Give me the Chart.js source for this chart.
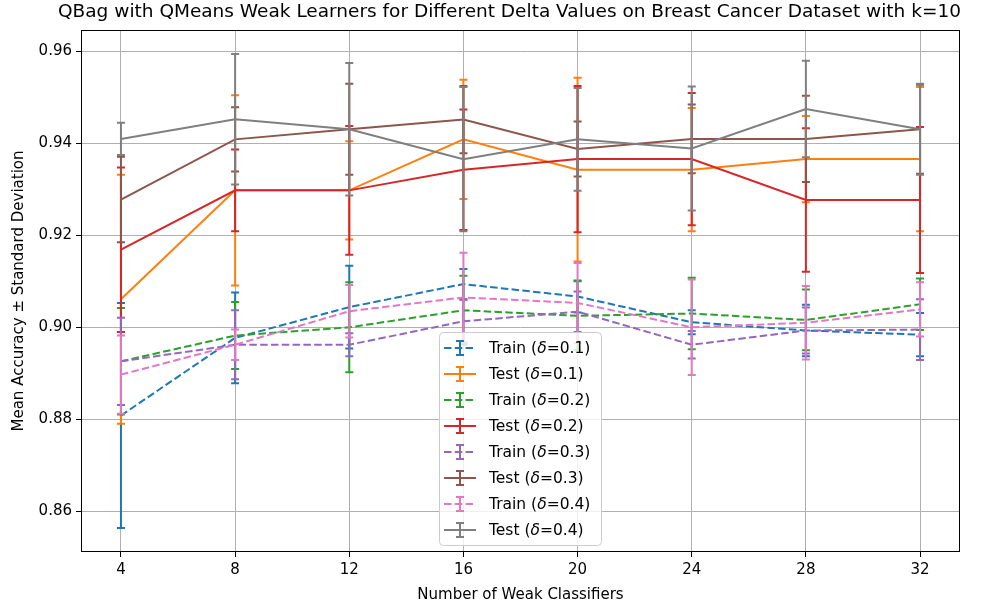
<!DOCTYPE html>
<html>
<head>
<meta charset="utf-8">
<title>QBag delta comparison</title>
<script src="https://cdn.jsdelivr.net/npm/chart.js@4.4.1/dist/chart.umd.min.js"></script>
<style>
  html, body { margin: 0; padding: 0; background: #fff; }
</style>
</head>
<body>
<canvas id="accChart" width="987" height="610"></canvas>
<script>
const classifiers = [4, 8, 12, 16, 20, 24, 28, 32];
const yTicks = [0.86, 0.88, 0.90, 0.92, 0.94, 0.96];

// mean accuracy and standard deviation per number of weak classifiers
const trainD1 = [0.8808, 0.8977, 0.9044, 0.9094, 0.9067, 0.9011, 0.8993, 0.8984];
const trainD1Std = [0.0245, 0.0099, 0.0090, 0.0033, 0.0035, 0.0026, 0.0056, 0.0047];
const testD1 = [0.9061, 0.9298, 0.9298, 0.9409, 0.9343, 0.9343, 0.9366, 0.9366];
const testD1Std = [0.0271, 0.0207, 0.0107, 0.0130, 0.0200, 0.0134, 0.0094, 0.0157];

const trainD2 = [0.8926, 0.8982, 0.9000, 0.9037, 0.9025, 0.9030, 0.9016, 0.9050];
const trainD2Std = [0.0116, 0.0073, 0.0098, 0.0075, 0.0075, 0.0078, 0.0066, 0.0056];
const testD2 = [0.9169, 0.9298, 0.9298, 0.9343, 0.9366, 0.9366, 0.9277, 0.9277];
const testD2Std = [0.0179, 0.0089, 0.0140, 0.0131, 0.0159, 0.0144, 0.0156, 0.0159];

const trainD3 = [0.8926, 0.8962, 0.8962, 0.9013, 0.9034, 0.8962, 0.8993, 0.8995];
const trainD3Std = [0.0095, 0.0075, 0.0025, 0.0047, 0.0044, 0.0030, 0.0050, 0.0066];
const testD3 = [0.9278, 0.9409, 0.9431, 0.9452, 0.9388, 0.9410, 0.9410, 0.9431];
const testD3Std = [0.0093, 0.0070, 0.0099, 0.0073, 0.0060, 0.0075, 0.0094, 0.0097];

const trainD4 = [0.8897, 0.8962, 0.9035, 0.9065, 0.9053, 0.9000, 0.9010, 0.9039];
const trainD4Std = [0.0085, 0.0033, 0.0057, 0.0097, 0.0087, 0.0104, 0.0080, 0.0059];
const testD4 = [0.9410, 0.9453, 0.9431, 0.9366, 0.9409, 0.9389, 0.9475, 0.9431];
const testD4Std = [0.0035, 0.0142, 0.0144, 0.0157, 0.0112, 0.0135, 0.0105, 0.0099];

const FONT = '"DejaVu Sans", sans-serif';
const DASH = [7.5, 3.3];
const CAP = 4;

const series = [
  { kind: 'Train', delta: '0.1', mean: trainD1, std: trainD1Std, color: '#1f77b4', dashed: true },
  { kind: 'Test',  delta: '0.1', mean: testD1,  std: testD1Std,  color: '#ff7f0e', dashed: false },
  { kind: 'Train', delta: '0.2', mean: trainD2, std: trainD2Std, color: '#2ca02c', dashed: true },
  { kind: 'Test',  delta: '0.2', mean: testD2,  std: testD2Std,  color: '#d62728', dashed: false },
  { kind: 'Train', delta: '0.3', mean: trainD3, std: trainD3Std, color: '#9467bd', dashed: true },
  { kind: 'Test',  delta: '0.3', mean: testD3,  std: testD3Std,  color: '#8c564b', dashed: false },
  { kind: 'Train', delta: '0.4', mean: trainD4, std: trainD4Std, color: '#e377c2', dashed: true },
  { kind: 'Test',  delta: '0.4', mean: testD4,  std: testD4Std,  color: '#7f7f7f', dashed: false }
];

const datasets = series.map((s, i) => ({
  label: `${s.kind} (δ=${s.delta})`,
  data: classifiers.map((x, j) => ({ x: x, y: s.mean[j] })),
  errors: s.std,
  borderColor: s.color,
  backgroundColor: s.color,
  borderWidth: 2,
  borderDash: s.dashed ? DASH : [],
  pointRadius: 0,
  tension: 0,
  fill: false,
  order: series.length - i
}));

// vertical error bars with caps, drawn right after each line
const errorBars = {
  id: 'errorBars',
  afterDatasetDraw(chart, args) {
    const ds = chart.data.datasets[args.index];
    const yScale = chart.scales.y;
    const ctx = chart.ctx;
    ctx.save();
    ctx.strokeStyle = ds.borderColor;
    ctx.lineWidth = ds.borderWidth;
    ctx.setLineDash([]);
    args.meta.data.forEach((pt, i) => {
      const m = ds.data[i].y;
      const s = ds.errors[i];
      const top = yScale.getPixelForValue(m + s);
      const bot = yScale.getPixelForValue(m - s);
      ctx.beginPath();
      ctx.moveTo(pt.x, top);
      ctx.lineTo(pt.x, bot);
      ctx.moveTo(pt.x - CAP, top);
      ctx.lineTo(pt.x + CAP, top);
      ctx.moveTo(pt.x - CAP, bot);
      ctx.lineTo(pt.x + CAP, bot);
      ctx.stroke();
    });
    ctx.restore();
  }
};

// title, frame and the in-plot legend
const decorations = {
  id: 'decorations',
  afterDraw(chart) {
    const ctx = chart.ctx;
    const area = chart.chartArea;
    ctx.save();

    ctx.fillStyle = '#000';
    ctx.font = `18.5px ${FONT}`;
    ctx.textAlign = 'center';
    ctx.textBaseline = 'middle';
    ctx.fillText('QBag with QMeans Weak Learners for Different Delta Values on Breast Cancer Dataset with k=10',
      (area.left + area.right) / 2 - 11, 12);

    ctx.strokeStyle = '#000';
    ctx.lineWidth = 1;
    ctx.strokeRect(area.left + 0.5, area.top + 0.5, area.right - area.left - 1, area.bottom - area.top - 1);

    const box = { x: 439, y: 332, w: 162, h: 213 };
    ctx.beginPath();
    ctx.roundRect(box.x + 0.5, box.y + 0.5, box.w, box.h, 4);
    ctx.fillStyle = 'rgba(255,255,255,0.8)';
    ctx.fill();
    ctx.strokeStyle = '#cccccc';
    ctx.stroke();

    const normal = `15.5px ${FONT}`;
    const italic = `italic 15.5px ${FONT}`;
    ctx.textAlign = 'left';
    chart.data.datasets.forEach((ds, i) => {
      const s = series[i];
      const cy = 348 + i * 26;
      const hx = box.x + 5;
      ctx.strokeStyle = ds.borderColor;
      ctx.lineWidth = ds.borderWidth;
      ctx.setLineDash(s.dashed ? DASH : []);
      ctx.beginPath();
      ctx.moveTo(hx, cy);
      ctx.lineTo(hx + 32, cy);
      ctx.stroke();
      ctx.setLineDash([]);
      const ex = hx + 16;
      ctx.beginPath();
      ctx.moveTo(ex, cy - 7);
      ctx.lineTo(ex, cy + 7);
      ctx.moveTo(ex - CAP, cy - 7);
      ctx.lineTo(ex + CAP, cy - 7);
      ctx.moveTo(ex - CAP, cy + 7);
      ctx.lineTo(ex + CAP, cy + 7);
      ctx.stroke();

      let tx = box.x + 50;
      ctx.fillStyle = '#000';
      const parts = [[`${s.kind} (`, normal], ['δ', italic], [`=${s.delta})`, normal]];
      parts.forEach(([txt, f]) => {
        ctx.font = f;
        ctx.fillText(txt, tx, cy + 1);
        tx += ctx.measureText(txt).width;
      });
    });
    ctx.restore();
  }
};

new Chart(document.getElementById('accChart'), {
  type: 'line',
  data: { datasets },
  plugins: [errorBars, decorations],
  options: {
    responsive: false,
    animation: false,
    layout: { padding: { top: 30, right: 27, left: 0, bottom: 0 } },
    plugins: {
      legend: { display: false },
      tooltip: { enabled: false }
    },
    scales: {
      x: {
        type: 'linear',
        min: 2.6,
        max: 33.4,
        afterBuildTicks: scale => { scale.ticks = classifiers.map(v => ({ value: v })); },
        afterFit: scale => { scale.height = 58; },
        ticks: { color: '#000', font: { family: FONT, size: 15 }, padding: 4, maxRotation: 0 },
        grid: { color: '#b0b0b0', lineWidth: 1, tickColor: '#000', tickLength: 5 },
        border: { display: false },
        title: {
          display: true,
          text: 'Number of Weak Classifiers',
          color: '#000',
          font: { family: FONT, size: 15 },
          padding: { top: 0, bottom: 6 }
        }
      },
      y: {
        type: 'linear',
        min: 0.8511,
        max: 0.9647,
        afterBuildTicks: scale => { scale.ticks = yTicks.map(v => ({ value: v })); },
        afterFit: scale => { scale.width = 81; },
        ticks: {
          color: '#000',
          font: { family: FONT, size: 15 },
          padding: 4,
          callback: v => v.toFixed(2)
        },
        grid: { color: '#b0b0b0', lineWidth: 1, tickColor: '#000', tickLength: 5 },
        border: { display: false },
        title: {
          display: true,
          text: 'Mean Accuracy ± Standard Deviation',
          color: '#000',
          font: { family: FONT, size: 15 },
          padding: { top: 10, bottom: 0 }
        }
      }
    }
  }
});
</script>
</body>
</html>
